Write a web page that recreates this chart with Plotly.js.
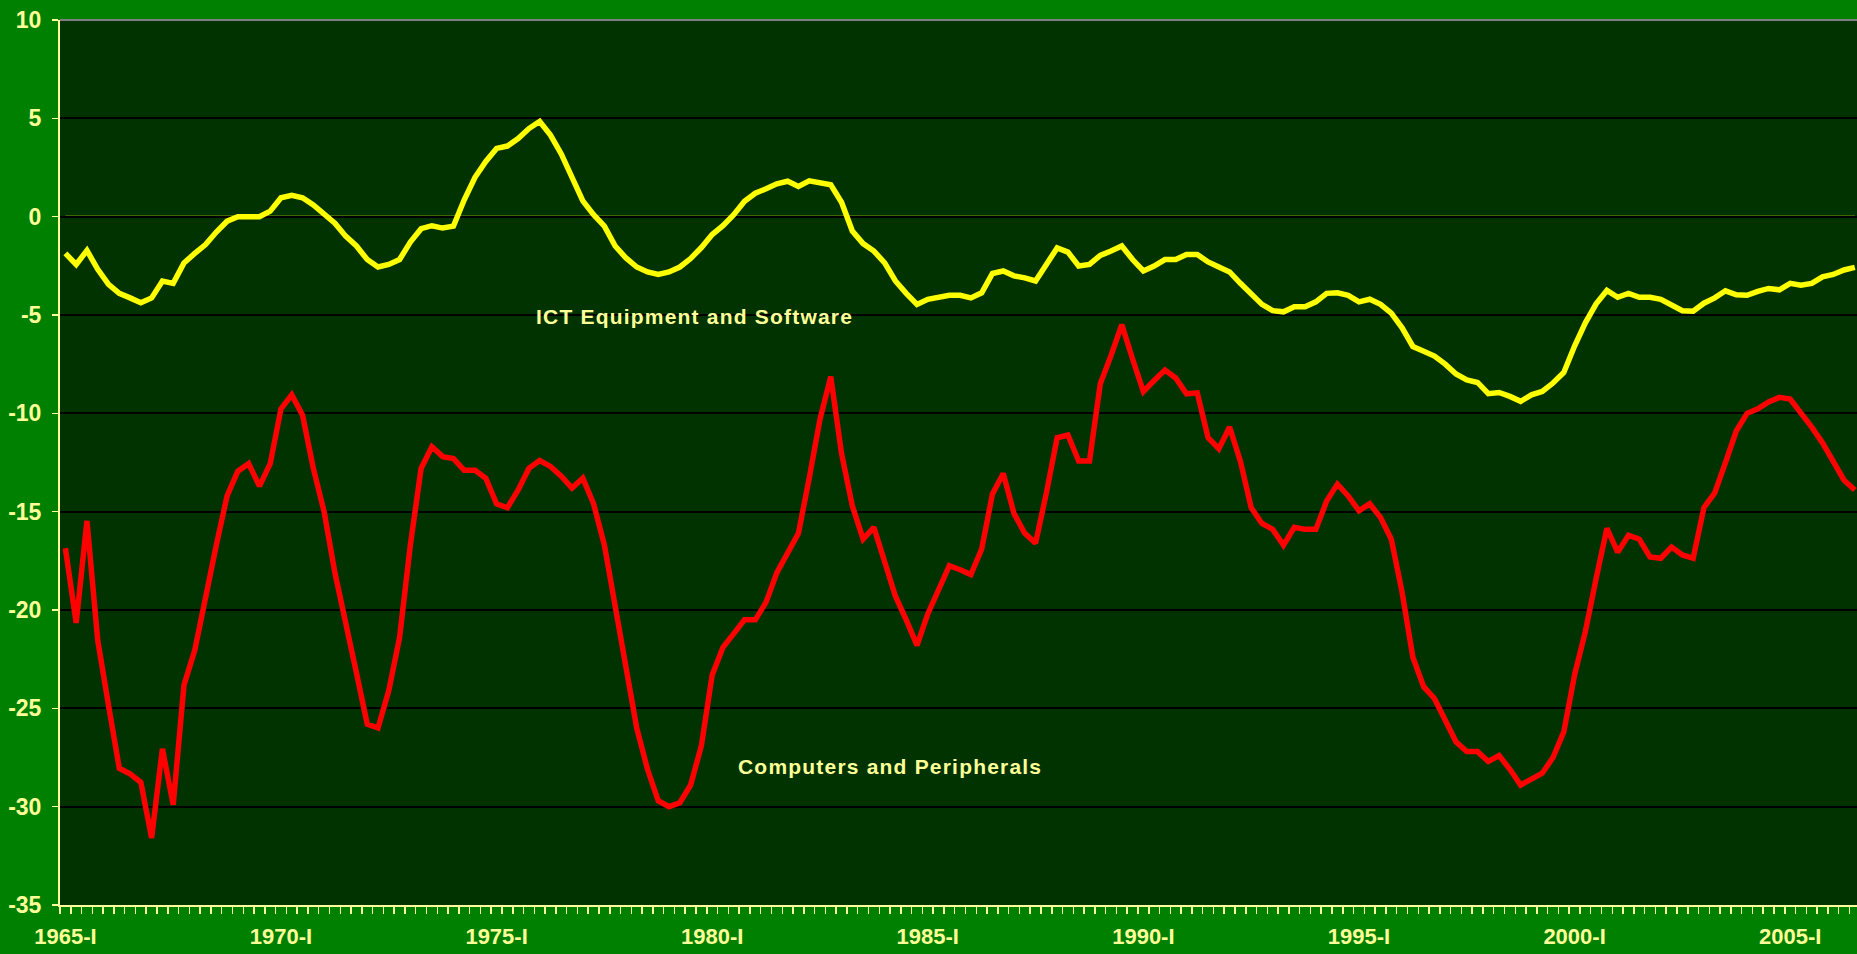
<!DOCTYPE html>
<html>
<head>
<meta charset="utf-8">
<script src="https://cdn.plot.ly/plotly-3.0.1.min.js"></script>
<style>
html,body{margin:0;padding:0;background:#008000;overflow:hidden;}
#chart{width:1857px;height:954px;}
.annotation-text{letter-spacing:1.2px;}
</style>
</head>
<body>
<div id="chart"></div>
<script>
// Quarterly categories 1965-I .. 2006-III
const startYear = 1965;
const endYear = 2006;
const lastQuarterInEndYear = 3;
const quarterNames = ['I', 'II', 'III', 'IV'];
const categories = [];
for (let y = startYear; y <= endYear; y++) {
  const nq = (y === endYear) ? lastQuarterInEndYear : 4;
  for (let q = 0; q < nq; q++) categories.push(y + '-' + quarterNames[q]);
}

const tickLabels = ['1965-I', '1970-I', '1975-I', '1980-I', '1985-I', '1990-I', '1995-I', '2000-I', '2005-I'];
const yTickValues = [10, 5, 0, -5, -10, -15, -20, -25, -30, -35];
const yTickLabels = ['10', '5', '0', '-5', '-10', '-15', '-20', '-25', '-30', '-35'];

const ictEquipmentSoftware = [
  -1.87, -2.43, -1.72, -2.68, -3.44, -3.9, -4.13, -4.38, -4.13, -3.27,
  -3.39, -2.35, -1.87, -1.42, -0.78, -0.23, 0.0, 0.0, 0.0, 0.28,
  0.96, 1.09, 0.96, 0.6, 0.15, -0.33, -0.99, -1.49, -2.18, -2.56,
  -2.43, -2.18, -1.29, -0.61, -0.46, -0.58, -0.48, 0.86, 2.0, 2.81,
  3.47, 3.59, 3.97, 4.48, 4.84, 4.15, 3.19, 1.95, 0.8, 0.1,
  -0.48, -1.49, -2.1, -2.56, -2.81, -2.94, -2.81, -2.56, -2.13, -1.57,
  -0.91, -0.46, 0.1, 0.78, 1.19, 1.42, 1.67, 1.8, 1.54, 1.82,
  1.72, 1.62, 0.73, -0.73, -1.37, -1.75, -2.35, -3.27, -3.9, -4.46,
  -4.2, -4.1, -4.0, -4.0, -4.13, -3.87, -2.89, -2.76, -3.01, -3.11,
  -3.27, -2.43, -1.59, -1.8, -2.51, -2.43, -1.97, -1.75, -1.49, -2.18,
  -2.76, -2.51, -2.18, -2.18, -1.92, -1.92, -2.3, -2.56, -2.81, -3.39,
  -3.9, -4.46, -4.78, -4.84, -4.58, -4.58, -4.33, -3.9, -3.87, -4.0,
  -4.33, -4.2, -4.46, -4.91, -5.65, -6.6, -6.84, -7.09, -7.5, -8.0,
  -8.3, -8.43, -9.0, -8.94, -9.14, -9.39, -9.06, -8.89, -8.46, -7.92,
  -6.58, -5.4, -4.43, -3.75, -4.1, -3.9, -4.1, -4.1, -4.2, -4.46,
  -4.78, -4.81, -4.4, -4.13, -3.77, -3.97, -4.0, -3.8, -3.65, -3.72,
  -3.39, -3.49, -3.39, -3.06, -2.94, -2.71, -2.58
];

const computersPeripherals = [
  -16.86, -20.66, -15.47, -21.54, -24.84, -28.05, -28.33, -28.76, -31.59, -27.06,
  -29.9, -23.82, -22.05, -19.3, -16.7, -14.2, -12.94, -12.56, -13.7, -12.56,
  -9.77, -9.06, -10.1, -12.8, -15.0, -18.1, -20.8, -23.2, -25.8, -26.0,
  -24.1, -21.4, -16.7, -12.8, -11.7, -12.2, -12.3, -12.9, -12.9, -13.3,
  -14.6, -14.8, -13.9, -12.8, -12.4, -12.7, -13.2, -13.8, -13.3, -14.6,
  -16.7, -19.9, -23.2, -26.0, -28.1, -29.7, -30.0, -29.8, -28.9, -26.9,
  -23.3, -21.9, -21.2, -20.5, -20.5, -19.6, -18.1, -17.1, -16.1, -13.3,
  -10.3, -8.13, -12.05, -14.7, -16.4, -15.8, -17.5, -19.3, -20.5, -21.8,
  -20.2, -19.0, -17.75, -17.95, -18.2, -16.9, -14.1, -13.06, -15.1, -16.1,
  -16.6, -14.05, -11.24, -11.1, -12.43, -12.43, -8.5, -7.06, -5.49, -7.24,
  -8.89, -8.33, -7.8, -8.2, -9.01, -8.96, -11.24, -11.8, -10.7, -12.43,
  -14.8, -15.6, -15.9, -16.7, -15.8, -15.9, -15.9, -14.46, -13.6, -14.2,
  -14.96, -14.6, -15.3, -16.4, -19.1, -22.4, -23.9, -24.5, -25.6, -26.7,
  -27.2, -27.2, -27.7, -27.4, -28.1, -28.9, -28.6, -28.3, -27.5, -26.2,
  -23.3, -21.1, -18.4, -15.85, -17.06, -16.2, -16.4, -17.3, -17.37, -16.8,
  -17.2, -17.37, -14.8, -14.05, -12.5, -10.9, -10.0, -9.77, -9.42, -9.19,
  -9.27, -9.97, -10.7, -11.5, -12.4, -13.4, -13.9
];

const seriesNames = ['ICT Equipment and Software', 'Computers and Peripherals'];

const labelSet = new Set(tickLabels);
const fontFamily = '"Liberation Sans", Arial, Helvetica, sans-serif';
const paleYellow = '#FFFF99';
const yTickFont = {family: fontFamily, size: 23, color: paleYellow, weight: 'bold'};
const xTickFont = {family: fontFamily, size: 22, color: paleYellow, weight: 'bold'};

const traces = [
  {
    type: 'scatter', mode: 'lines', name: seriesNames[1],
    x: categories, y: computersPeripherals,
    line: {color: '#FF0000', width: 5.5}
  },
  {
    type: 'scatter', mode: 'lines', name: seriesNames[0],
    x: categories, y: ictEquipmentSoftware,
    line: {color: '#FFFF00', width: 5.5}
  }
];

const layout = {
  width: 1857, height: 954,
  paper_bgcolor: '#008000',
  plot_bgcolor: '#003300',
  margin: {l: 60, r: 0, t: 20, b: 49, pad: 0},
  showlegend: false,
  font: {family: fontFamily, size: 22, color: paleYellow, weight: 'bold'},
  xaxis: {
    type: 'category',
    range: [-0.5, categories.length - 0.8],
    autorange: false,
    tickmode: 'array',
    tickvals: categories,
    ticktext: categories.map(c => labelSet.has(c) ? c : ''),
    tickson: 'boundaries',
    ticks: 'outside', ticklen: 7, tickwidth: 1.5, tickcolor: paleYellow,
    showline: true, linecolor: paleYellow, linewidth: 2,
    showgrid: false, zeroline: false, tickangle: 0,
    ticklabelstandoff: 11,
    tickfont: xTickFont
  },
  yaxis: {
    range: [-35, 10], autorange: false,
    tickmode: 'array', tickvals: yTickValues, ticktext: yTickLabels,
    ticks: 'outside', ticklen: 6, tickwidth: 1.5, tickcolor: paleYellow,
    showline: true, linecolor: paleYellow, linewidth: 2,
    showgrid: true, gridcolor: '#000000', gridwidth: 2,
    zeroline: false,
    ticklabelstandoff: 6,
    tickfont: yTickFont
  },
  shapes: [
    {type: 'line', layer: 'below', xref: 'x', yref: 'y',
     x0: 0, x1: categories.length - 1, y0: 0, y1: 0,
     line: {color: '#FFFF00', width: 2}},
    {type: 'line', layer: 'above', xref: 'paper', yref: 'paper',
     x0: 0, x1: 1, y0: 1, y1: 1,
     line: {color: '#808080', width: 2}}
  ],
  annotations: [
    {xref: 'paper', yref: 'paper', x: 0.353, y: 0.6655, xanchor: 'center', yanchor: 'middle',
     text: seriesNames[0], showarrow: false,
     font: {family: fontFamily, size: 21, color: paleYellow, weight: 'bold'}},
    {xref: 'paper', yref: 'paper', x: 0.4619, y: 0.157, xanchor: 'center', yanchor: 'middle',
     text: seriesNames[1], showarrow: false,
     font: {family: fontFamily, size: 21, color: paleYellow, weight: 'bold'}}
  ]
};

Plotly.newPlot('chart', traces, layout, {displayModeBar: false, staticPlot: true});
</script>
</body>
</html>
